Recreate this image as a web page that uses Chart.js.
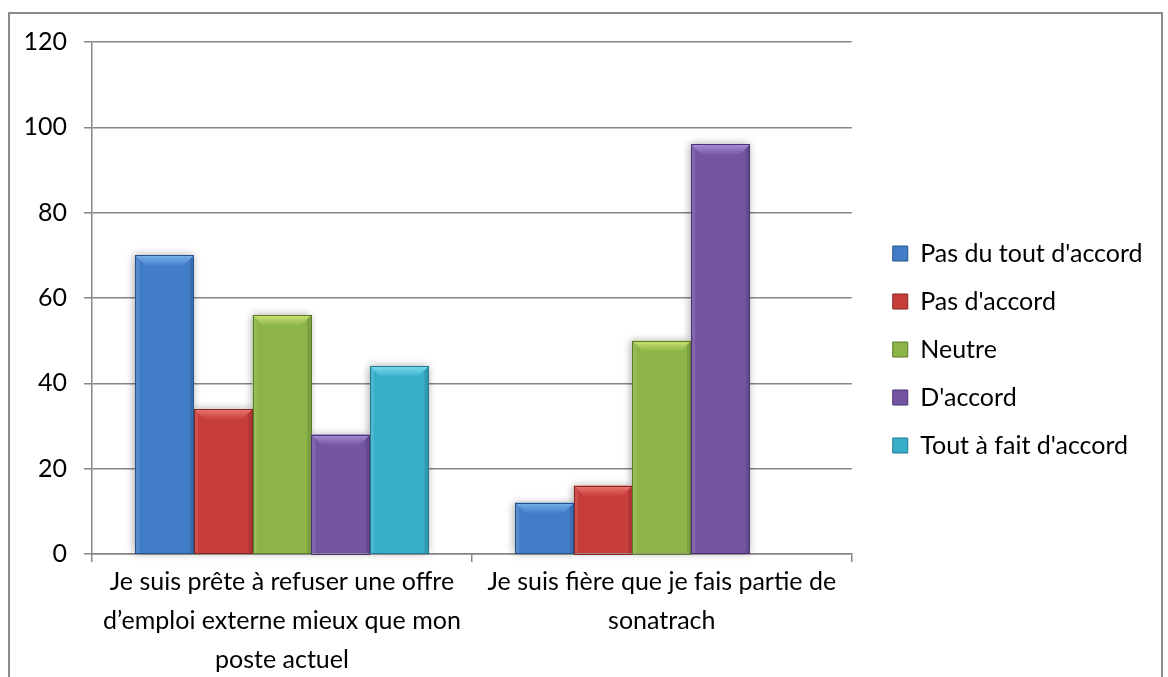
<!DOCTYPE html>
<html>
<head>
<meta charset="utf-8">
<script src="https://cdn.jsdelivr.net/npm/chart.js@4"></script>
<style>
  html, body { margin: 0; padding: 0; background: #fff; overflow: hidden; }
  #wrap { position: absolute; left: 0; top: 0; width: 1168px; height: 700px; }
  #frame { position: absolute; left: 8px; top: 12px; width: 1151px; height: 720px;
           border: 2px solid #8c8c8c; border-bottom: none; pointer-events: none; }
</style>
</head>
<body>
<div id="wrap">
  <canvas id="chart" width="1168" height="700"></canvas>
</div>
<div id="frame"></div>
<script>
// data
const categories = [
  ['Je suis prête à refuser une offre', 'd’emploi externe mieux que mon', 'poste actuel'],
  ['Je suis fière que je fais partie de', 'sonatrach']
];
const seriesNames = ["Pas du tout d'accord", "Pas d'accord", 'Neutre', "D'accord", "Tout à fait d'accord"];
const pasDuTout = [70, 12];
const pasDaccord = [34, 16];
const neutre = [56, 50];
const daccord = [28, 96];
const toutAFait = [44, 0];
const yTicks = [0, 20, 40, 60, 80, 100, 120];

const colors = ['#427dc8', '#c63d3a', '#8db447', '#7455a2', '#38afc9'];
const tops = ['#7ab2ec', '#ec7872', '#cbe474', '#aa8ed9', '#7cdaee'];
const edges = ['#25528a', '#852523', '#5c7a2a', '#4a3370', '#217a8e'];

const seriesValues = [pasDuTout, pasDaccord, neutre, daccord, toutAFait];

// plugins
const bevel = {
  id: 'bevel',
  beforeDatasetsDraw(chart) {
    // soft shadow behind the bars
    const ctx = chart.ctx;
    ctx.save();
    ctx.shadowColor = 'rgba(0,0,0,0.35)';
    ctx.shadowBlur = 8;
    ctx.shadowOffsetX = -1;
    ctx.fillStyle = '#fff';
    chart.getSortedVisibleDatasetMetas().forEach(meta => {
      meta.data.forEach(bar => {
        const p = bar.getProps(['x', 'y', 'base', 'width'], true);
        if (p.base - p.y < 1) return;
        ctx.fillRect(p.x - p.width / 2, p.y, p.width, p.base - p.y);
      });
    });
    ctx.restore();
  },
  afterDatasetsDraw(chart) {
    const ctx = chart.ctx;
    chart.getSortedVisibleDatasetMetas().forEach(meta => {
      const i = meta.index;
      meta.data.forEach(bar => {
        const p = bar.getProps(['x', 'y', 'base', 'width'], true);
        const l = p.x - p.width / 2, r = p.x + p.width / 2;
        const t = p.y, b = p.base;
        if (b - t < 1) return;
        const d = Math.min(11, (b - t) / 2);
        ctx.save();
        // top bevel
        const g = ctx.createLinearGradient(0, t, 0, t + d);
        g.addColorStop(0, tops[i]);
        g.addColorStop(1, colors[i]);
        ctx.fillStyle = g;
        ctx.beginPath();
        ctx.moveTo(l, t); ctx.lineTo(r, t); ctx.lineTo(r - d, t + d); ctx.lineTo(l + d, t + d);
        ctx.closePath(); ctx.fill();
        // right side darker
        ctx.fillStyle = 'rgba(0,0,0,0.12)';
        ctx.beginPath();
        ctx.moveTo(r, t); ctx.lineTo(r, b); ctx.lineTo(r - 4, b); ctx.lineTo(r - 4, t + 4);
        ctx.closePath(); ctx.fill();
        // left side lighter
        ctx.fillStyle = 'rgba(255,255,255,0.10)';
        ctx.beginPath();
        ctx.moveTo(l, t); ctx.lineTo(l, b); ctx.lineTo(l + 4, b); ctx.lineTo(l + 4, t + 4);
        ctx.closePath(); ctx.fill();
        // outline
        ctx.strokeStyle = edges[i];
        ctx.lineWidth = 1;
        ctx.strokeRect(Math.round(l) + 0.5, Math.round(t) + 0.5, Math.round(r - l) - 1, Math.round(b - t));
        ctx.restore();
      });
    });
  }
};

const legendShift = {
  id: 'legendShift',
  beforeInit(chart) {
    const fit = chart.legend.fit;
    chart.legend.fit = function () {
      fit.call(this);
      this.width += 18;
    };
  },
  afterLayout(chart) {
    const lg = chart.legend;
    lg.left += 18;
    lg.top -= 11;
    lg.bottom -= 11;
  }
};

const ctx = document.getElementById('chart').getContext('2d');
const fontFamily = 'Lato, Calibri, Carlito, sans-serif';

new Chart(ctx, {
  type: 'bar',
  data: {
    labels: categories,
    datasets: seriesNames.map((name, i) => ({
      label: name,
      data: seriesValues[i],
      backgroundColor: colors[i],
      borderColor: edges[i],
      borderWidth: 0,
      barPercentage: 1,
      categoryPercentage: 0.772
    }))
  },
  options: {
    responsive: false,
    animation: false,
    layout: { padding: { left: 26, right: 17, top: 42, bottom: 21 } },
    plugins: {
      tooltip: { enabled: false },
      legend: {
        position: 'right',
        labels: {
          font: { family: fontFamily, size: 25 },
          color: '#000',
          boxWidth: 15,
          boxHeight: 15,
          padding: 23,
          generateLabels(chart) {
            return chart.data.datasets.map((ds, i) => ({
              text: ds.label,
              fillStyle: colors[i],
              strokeStyle: edges[i],
              lineWidth: 1,
              hidden: false,
              datasetIndex: i,
              fontColor: '#000'
            }));
          }
        }
      }
    },
    scales: {
      x: {
        grid: { display: true, drawOnChartArea: false, offset: true, color: '#868686', tickLength: 8, lineWidth: 1.5 },
        border: { color: '#868686', width: 1.5 },
        ticks: { font: { family: fontFamily, size: 25, lineHeight: 1.56 }, color: '#000', padding: 0, maxRotation: 0, autoSkip: false }
      },
      y: {
        min: 0, max: 120,
        afterBuildTicks(axis) { axis.ticks = yTicks.map(v => ({ value: v })); },
        afterFit(axis) { axis.width = 66; },
        grid: { color: '#868686', lineWidth: 1.5, tickLength: 8 },
        border: { color: '#868686', width: 1.5 },
        ticks: { font: { family: fontFamily, size: 25 }, color: '#000', padding: 17 }
      }
    }
  },
  plugins: [bevel, legendShift]
});
</script>
</body>
</html>
